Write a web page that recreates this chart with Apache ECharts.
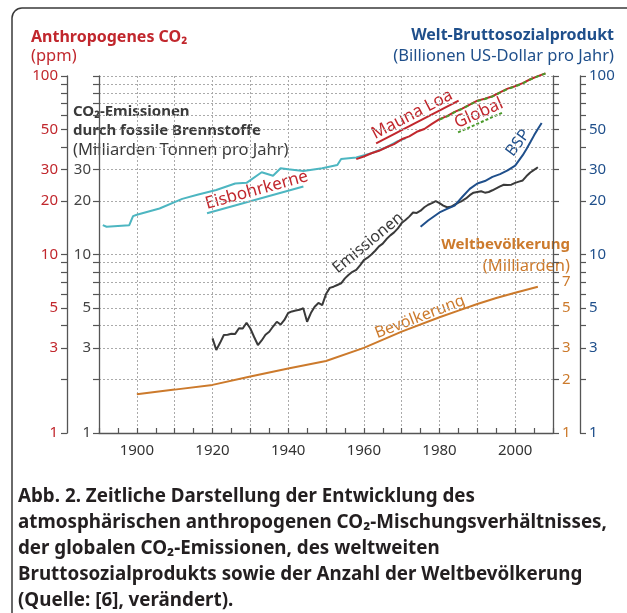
<!DOCTYPE html>
<html>
<head>
<meta charset="utf-8">
<script src="https://cdn.jsdelivr.net/npm/echarts@6/dist/echarts.min.js"></script>
<style>
  html, body { margin: 0; padding: 0; background: #fff; }
  #chart { width: 627px; height: 613px; }
</style>
</head>
<body>
<div id="chart"></div>
<script>
// ---- data ----
const iceYears = [1891, 1892, 1898, 1899, 1900, 1906, 1912, 1916, 1921, 1926, 1929, 1933, 1936, 1938, 1940, 1944, 1949, 1953, 1954, 1958, 1962, 1966, 1969, 1971]
const iceValues = [14.6, 14.3, 14.6, 16.4, 16.7, 18.1, 20.5, 21.6, 23.0, 25.0, 25.2, 28.9, 27.6, 30.4, 30.0, 29.4, 30.4, 31.7, 34.3, 35.0, 36.9, 39.9, 43.2, 44.8]

const maunaYears = [1958, 1960, 1962, 1964, 1966, 1968, 1970, 1972, 1974, 1976, 1978, 1980, 1982, 1984, 1986, 1988, 1990, 1992, 1994, 1996, 1998, 2000, 2002, 2004, 2006, 2008]
const maunaValues = [34.2, 35.4, 36.9, 38.1, 39.9, 41.5, 44.2, 45.9, 48.7, 50.5, 53.9, 57.3, 59.6, 63.0, 65.7, 69.2, 72.8, 74.6, 77.0, 80.9, 85.0, 87.7, 91.3, 95.9, 99.9, 103.5]

const globalYears = [1980, 1982, 1984, 1986, 1988, 1990, 1992, 1994, 1996, 1998, 2000, 2002, 2004, 2006, 2008]
const globalValues = [57.0, 59.4, 62.7, 65.5, 69.0, 72.5, 74.4, 76.8, 80.6, 84.6, 87.4, 91.0, 95.6, 99.6, 103.2]

const emisYears = [1920, 1921, 1922, 1923, 1924, 1925, 1926, 1927, 1928, 1929, 1930, 1931, 1932, 1933, 1934, 1935, 1936, 1937, 1938, 1939,
  1940, 1941, 1942, 1943, 1944, 1945, 1946, 1947, 1948, 1949, 1950, 1951, 1952, 1953, 1954, 1955, 1956, 1957, 1958, 1959,
  1960, 1961, 1962, 1963, 1964, 1965, 1966, 1967, 1968, 1969, 1970, 1971, 1972, 1973, 1974, 1975, 1976, 1977, 1978, 1979,
  1980, 1981, 1982, 1983, 1984, 1985, 1986, 1987, 1988, 1989, 1990, 1991, 1992, 1993, 1994, 1995, 1996, 1997, 1998, 1999,
  2000, 2001, 2002, 2003, 2004, 2005, 2006]
const emisValues = [3.39, 2.92, 3.2, 3.54, 3.55, 3.6, 3.59, 3.86, 3.85, 4.15, 3.85, 3.45, 3.11, 3.3, 3.55, 3.69, 3.95, 4.2, 4.05, 4.3,
  4.7, 4.8, 4.85, 4.9, 5.0, 4.2, 4.7, 5.1, 5.35, 5.2, 6.0, 6.5, 6.6, 6.75, 6.9, 7.35, 7.7, 8.0, 8.2, 8.7,
  9.3, 9.6, 10.0, 10.5, 11.1, 11.5, 12.2, 12.8, 13.3, 14.0, 15.0, 15.6, 16.3, 17.2, 17.1, 17.6, 18.4, 19.0, 19.4, 19.9,
  19.4, 18.8, 18.4, 18.5, 19.0, 19.5, 20.0, 20.6, 21.5, 22.2, 22.4, 22.6, 22.2, 22.4, 22.9, 23.5, 24.1, 24.6, 24.5, 24.6,
  25.2, 25.6, 26.0, 27.5, 28.8, 29.8, 30.8]

const bspYears = [1975, 1977, 1980, 1982, 1984, 1986, 1988, 1990, 1992, 1994, 1996, 1998, 2000, 2002, 2003, 2004, 2005, 2006, 2007]
const bspValues = [14.3, 15.5, 17.2, 18.0, 18.8, 21.0, 23.3, 25.0, 25.8, 27.2, 28.2, 29.6, 31.5, 36.0, 39.0, 42.5, 46.5, 50.5, 54.5]

const popYears = [1900, 1910, 1920, 1930, 1940, 1950, 1960, 1970, 1980, 1985, 1990, 1995, 2000, 2006]
const popValues = [1.65, 1.75, 1.86, 2.07, 2.30, 2.53, 3.0, 3.70, 4.45, 4.85, 5.28, 5.7, 6.1, 6.6]

const xLabelYears = [1900, 1920, 1940, 1960, 1980, 2000]
const logTicks = [1, 2, 3, 4, 5, 6, 7, 8, 9, 10, 20, 30, 40, 50, 60, 70, 80, 90, 100]
const labelsCo2 = [1, 3, 5, 10, 20, 30, 50, 100]
const labelsEmis = [1, 3, 5, 10, 20, 30]
const labelsPop = [1, 2, 3, 5, 7]
const labelsBsp = [1, 3, 5, 10, 20, 30, 50, 100]

// ---- styles ----
const FONT = '"Noto Sans", "Open Sans", sans-serif'
const RED = '#c1272d'
const BLUE = '#1f4f8b'
const ORANGE = '#cc7a2c'
const TEAL = '#4db6c1'
const GREEN = '#4a9a2a'
const DARK = '#3a3a3a'
const AXIS = '#555'

const pairs = (xs, ys) => xs.map((x, i) => [x, ys[i]])

const makeYAxis = (position, offset, labels, color, margin) => ({
  type: 'log',
  logBase: 10,
  min: 1,
  max: 100,
  position: position,
  offset: offset,
  axisLine: { show: true, lineStyle: { color: AXIS, width: 1.3 } },
  axisTick: { show: true, customValues: logTicks, length: 6, lineStyle: { color: AXIS, width: 1.2 } },
  axisLabel: {
    customValues: labels,
    color: color,
    fontSize: 15,
    fontFamily: FONT,
    margin: margin,
    formatter: v => String(v),
  },
  splitLine: { show: false },
})

const yAxes = [
  makeYAxis('left', 0, labelsEmis, '#444', 8),
  makeYAxis('left', 32, labelsCo2, RED, 9),
  makeYAxis('right', 0, labelsPop, ORANGE, 9),
  makeYAxis('right', 27, labelsBsp, BLUE, 9),
]
// horizontal grid (dotted) on the inner left axis
yAxes[0].splitLine = { show: true, lineStyle: { color: '#aaa', type: [2, 2], width: 1 } }

const lineSeries = (name, xs, ys, color, extra) => Object.assign({
  name: name,
  type: 'line',
  yAxisIndex: 0,
  data: pairs(xs, ys),
  showSymbol: false,
  symbol: 'none',
  clip: false,
  lineStyle: { color: color, width: 2 },
  z: 3,
}, extra || {})

const rotLabel = (x, y, deg, text, color, size, underline) => {
  const children = [{
    type: 'text', x: 0, y: underline ? -0.5 : 0,
    style: { text: text, fill: color, fontSize: size, fontFamily: FONT, align: underline ? 'left' : 'center', verticalAlign: underline ? 'bottom' : 'middle' },
  }]
  if (underline) {
    children.push({ type: 'line', shape: { x1: -1, y1: 0, x2: underline.len, y2: 0 }, style: { stroke: underline.color, lineWidth: 2, lineDash: underline.dash || null } })
  }
  return { type: 'group', x: x, y: y, rotation: deg * Math.PI / 180, children: children }
}

const txt = (x, y, text, fill, size, weight, align) => ({
  type: 'text', x: x, y: y,
  style: { text: text, fill: fill, fontSize: size, fontWeight: weight || 'normal', fontFamily: FONT, align: align || 'left', verticalAlign: 'middle' },
})

const caption = [
  'Abb. 2. Zeitliche Darstellung der Entwicklung des',
  'atmosphärischen anthropogenen CO₂-Mischungsverhältnisses,',
  'der globalen CO₂-Emissionen, des weltweiten',
  'Bruttosozialprodukts sowie der Anzahl der Weltbevölkerung',
  '(Quelle: [6], verändert).',
]

const chart = echarts.init(document.getElementById('chart'))
chart.setOption({
  animation: false,
  backgroundColor: '#fff',
  textStyle: { fontFamily: FONT },
  grid: { left: 99, right: 74, top: 76, bottom: 180, containLabel: false },
  xAxis: {
    type: 'value',
    min: 1890,
    max: 2010,
    interval: 10,
    axisLine: { show: true, lineStyle: { color: AXIS, width: 1.3 } },
    axisTick: { show: true, inside: true, length: 5, lineStyle: { color: AXIS, width: 1.2 } },
    minorTick: { show: true, splitNumber: 2, length: 5, lineStyle: { color: AXIS, width: 1.2 } },
    axisLabel: {
      color: '#333', fontSize: 15, fontFamily: FONT, margin: 10,
      formatter: v => (xLabelYears.indexOf(v) >= 0 ? String(v) : ''),
    },
    splitLine: { show: true, lineStyle: { color: '#aaa', type: [2, 2], width: 1 } },
  },
  yAxis: yAxes,
  series: [
    lineSeries('Eisbohrkerne', iceYears, iceValues, TEAL),
    lineSeries('Mauna Loa', maunaYears, maunaValues, RED, { z: 4 }),
    lineSeries('Global', globalYears, globalValues, GREEN, { z: 5, lineStyle: { color: GREEN, width: 2, type: [4, 3] } }),
    lineSeries('Emissionen', emisYears, emisValues, DARK),
    lineSeries('BSP', bspYears, bspValues, BLUE),
    lineSeries('Bevölkerung', popYears, popValues, ORANGE),
  ],
  graphic: [
    // frame
    { type: 'rect', shape: { x: 12, y: 8, width: 900, height: 900, r: 10 }, style: { fill: 'none', stroke: '#3a3a3a', lineWidth: 1.5 }, z: 0 },
    // axis titles
    txt(31, 37, 'Anthropogenes CO₂', RED, 16, 'bold'),
    txt(31, 56, '(ppm)', RED, 16.5),
    txt(614, 35, 'Welt-Bruttosozialprodukt', BLUE, 16, 'bold', 'right'),
    txt(614, 56, '(Billionen US-Dollar pro Jahr)', BLUE, 16.5, 'normal', 'right'),
    txt(73, 112, 'CO₂-Emissionen', DARK, 15, 'bold'),
    txt(73, 131, 'durch fossile Brennstoffe', DARK, 15, 'bold'),
    txt(73, 150, '(Milliarden Tonnen pro Jahr)', DARK, 16.5),
    txt(570, 245, 'Weltbevölkerung', ORANGE, 15, 'bold', 'right'),
    txt(570, 266, '(Milliarden)', ORANGE, 16.5, 'normal', 'right'),
    // in-plot series names
    rotLabel(377, 143, 27.5, 'Mauna Loa', RED, 17, { len: 92, color: RED }),
    rotLabel(459, 132, 24, 'Global', RED, 17, { len: 47, color: GREEN, dash: [3, 2] }),
    rotLabel(208, 213, 15.5, 'Eisbohrkerne', RED, 17, { len: 99, color: TEAL }),
    rotLabel(368, 243, 39.5, 'Emissionen', DARK, 16),
    rotLabel(518, 143, 53, 'BSP', BLUE, 16),
    rotLabel(420, 317, 21, 'Bevölkerung', ORANGE, 16),
    // caption
    ...caption.map((line, i) => txt(18, 497 + i * 25.8, line, '#231f20', 18.8, 'bold')),
  ],
})
</script>
</body>
</html>
